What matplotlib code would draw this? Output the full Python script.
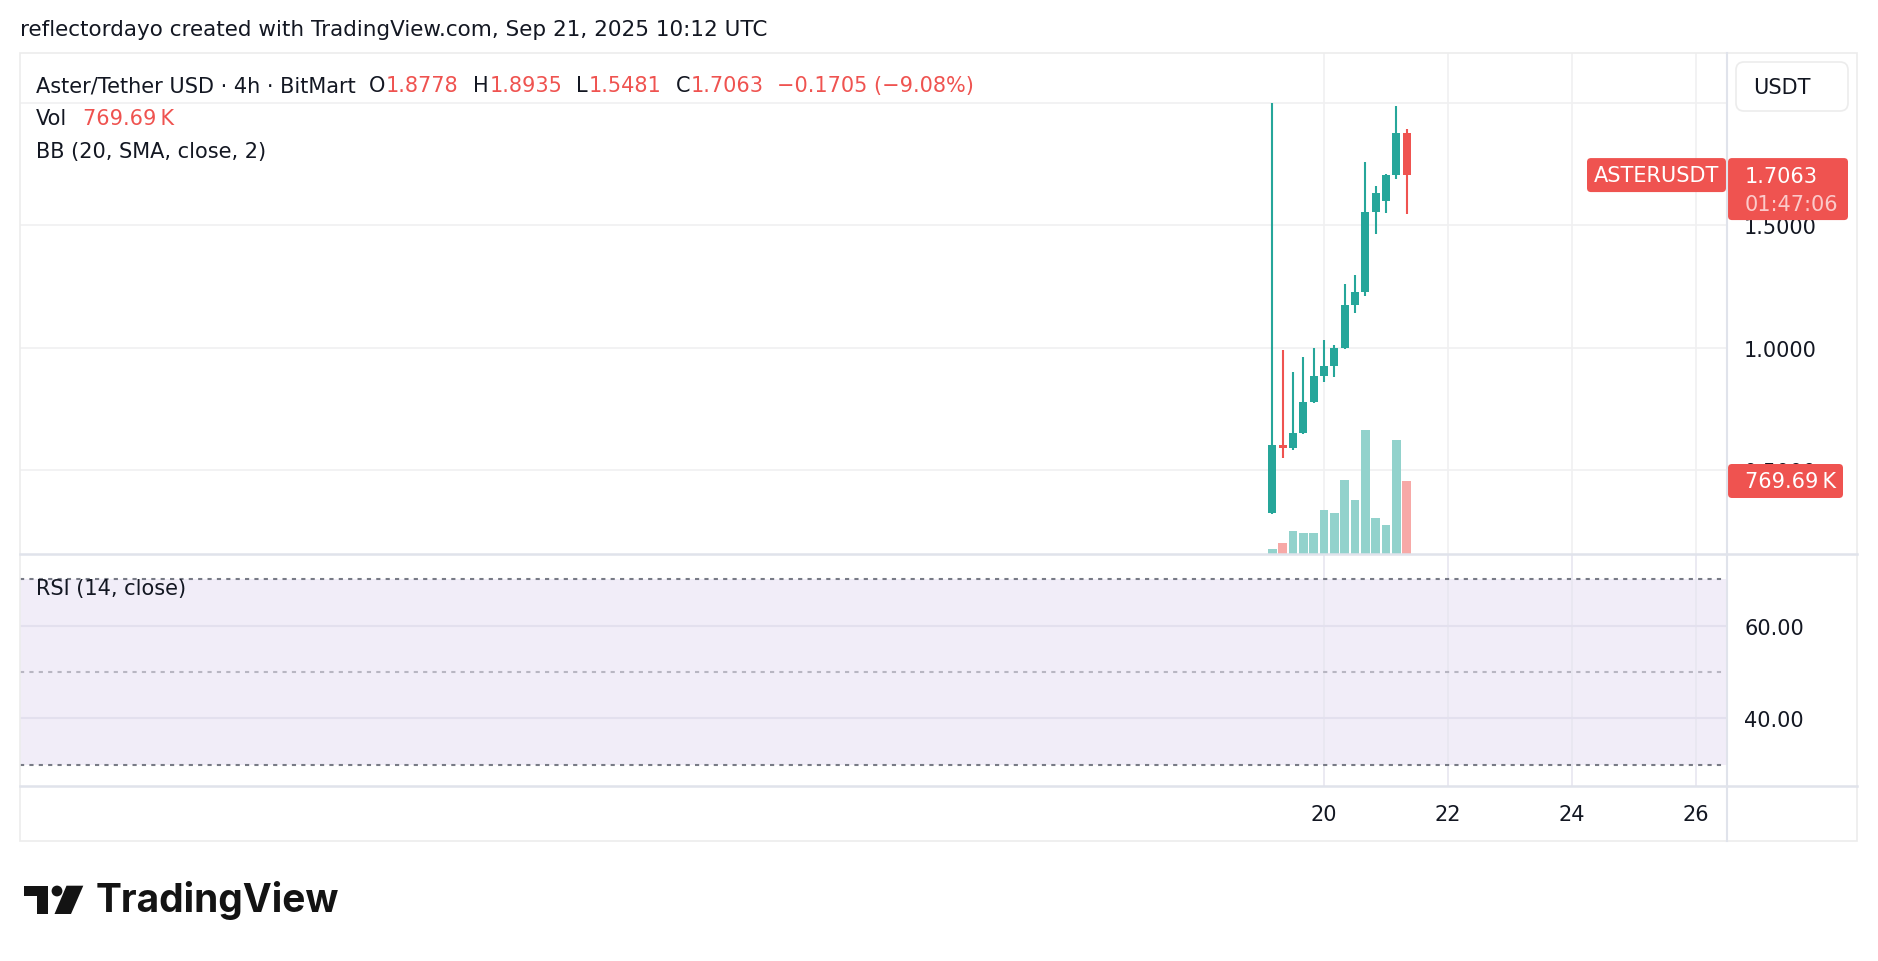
import matplotlib
matplotlib.use('Agg')
import matplotlib.pyplot as plt
import matplotlib.dates as mdates
from matplotlib.patches import Rectangle, FancyBboxPatch, Circle, Polygon
from datetime import datetime

# ---------------- data ----------------
times = ['2025-09-19 04:00', '2025-09-19 08:00', '2025-09-19 12:00', '2025-09-19 16:00',
         '2025-09-19 20:00', '2025-09-20 00:00', '2025-09-20 04:00', '2025-09-20 08:00',
         '2025-09-20 12:00', '2025-09-20 16:00', '2025-09-20 20:00', '2025-09-21 00:00',
         '2025-09-21 04:00', '2025-09-21 08:00']
opens = [0.324, 0.602, 0.588, 0.651, 0.778, 0.884, 0.925, 0.999, 1.175, 1.228, 1.555, 1.602, 1.707, 1.8778]
highs = [2.000, 0.990, 0.900, 0.962, 1.000, 1.031, 1.011, 1.261, 1.297, 1.760, 1.662, 1.711, 1.989, 1.8935]
lows = [0.320, 0.549, 0.580, 0.647, 0.775, 0.860, 0.881, 0.996, 1.143, 1.213, 1.467, 1.552, 1.692, 1.5481]
closes = [0.602, 0.590, 0.651, 0.778, 0.884, 0.925, 0.999, 1.175, 1.228, 1.555, 1.633, 1.707, 1.8778, 1.7063]
volumes_k = [53, 116, 242, 221, 221, 464, 432, 780, 569, 1307, 379, 306, 1202, 769.69]
price_ticks = [0.5, 1.0, 1.5, 2.0]
price_labels = ['0.5000', '1.0000', '1.5000', '']
rsi_ticks = [40, 60]
rsi_levels = [70, 50, 30]
date_ticks = ['2025-09-20', '2025-09-22', '2025-09-24', '2025-09-26']
date_labels = ['20', '22', '24', '26']

# ---------------- style ----------------
W, H = 1878, 962
FONT = ['DejaVu Sans']
plt.rcParams['font.family'] = FONT
FS = 15
TXT = '#131722'
UP = '#26a69a'
DN = '#ef5350'
UPV = '#92d2cc'
DNV = '#f7a9a7'
GRID = '#f0f0f1'
SEP = '#e0e3eb'

fig = plt.figure(figsize=(W / 100, H / 100), dpi=100)
fig.patch.set_facecolor('white')


def box(x0, y0, x1, y1):
    return [x0 / W, 1 - y1 / H, (x1 - x0) / W, (y1 - y0) / H]


LEFT, RIGHT = 20, 1726
x_ref = mdates.date2num(datetime(2025, 9, 20))
px_day = 62.0
x_zero_px = 1324
xlim = (x_ref + (LEFT - x_zero_px) / px_day, x_ref + (RIGHT - x_zero_px) / px_day)

tnum = [mdates.date2num(datetime.strptime(t, '%Y-%m-%d %H:%M')) for t in times]
dnum = [mdates.date2num(datetime.strptime(t, '%Y-%m-%d')) for t in date_ticks]

# price pane
axp = fig.add_axes(box(LEFT, 54, RIGHT, 555))
axp.set_xlim(*xlim)
axp.set_ylim(0.1559, 2.2058)
axv = fig.add_axes(box(LEFT, 54, RIGHT, 555), sharex=axp)
axv.set_ylim(0, 769.69 * 501 / 73)
axv.patch.set_alpha(0)
axr = fig.add_axes(box(LEFT, 555, RIGHT, 787), sharex=axp)
axr.set_ylim(25.48, 75.38)
axt = fig.add_axes(box(LEFT, 787, RIGHT, 842), sharex=axp)
axt.set_ylim(0, 1)

for a in (axp, axv, axr, axt):
    for s in a.spines.values():
        s.set_visible(False)
    a.tick_params(axis='x', bottom=False, labelbottom=False)

# gridlines
for d in dnum:
    axp.axvline(d, color=GRID, lw=1.2, zorder=0)
    axr.axvline(d, color='#e8e6f0', lw=1.2, zorder=1)
for p in price_ticks:
    axp.axhline(p, color=GRID, lw=1.2, zorder=0)

# candles
bw = 8.0 / px_day
for t, o, h, l, c in zip(tnum, opens, highs, lows, closes):
    col = UP if c >= o else DN
    axp.vlines(t, l, h, color=col, lw=1.5, zorder=3)
    hgt = c - o
    if abs(hgt) < 0.006:
        hgt = 0.006 if hgt >= 0 else -0.006
    axp.bar(t, hgt, bottom=o, width=bw, color=col, zorder=4, linewidth=0)

# volume
vcols = [UPV if c >= o else DNV for o, c in zip(opens, closes)]
axv.bar(tnum, volumes_k, width=8.6 / px_day, color=vcols, zorder=2, linewidth=0)
axv.set_yticks([])
axv.tick_params(left=False, labelleft=False)

# price axis labels on right
axp.yaxis.tick_right()
axp.set_yticks(price_ticks)
axp.set_yticklabels(price_labels)
axp.tick_params(axis='y', length=0, pad=13, labelsize=FS, labelcolor=TXT)
for lab in axp.get_yticklabels():
    lab.set_horizontalalignment('left')

# RSI pane
axr.axhspan(30, 70, color='#7e57c2', alpha=0.1, lw=0, zorder=0)
for p in rsi_ticks:
    axr.axhline(p, color='#e3e0ee', lw=1.5, zorder=1)
axr.axhline(rsi_levels[0], color='#787b86', lw=1.5, ls=(0, (2, 2.5)), zorder=2)
axr.axhline(rsi_levels[1], color='#b8b6c2', lw=1.5, ls=(0, (2, 2.5)), zorder=2)
axr.axhline(rsi_levels[2], color='#787b86', lw=1.5, ls=(0, (2, 2.5)), zorder=2)
axr.yaxis.tick_right()
axr.set_yticks(rsi_ticks)
axr.set_yticklabels(['%.2f' % p for p in rsi_ticks])
axr.tick_params(axis='y', length=0, pad=13, labelsize=FS, labelcolor=TXT)
for lab in axr.get_yticklabels():
    lab.set_horizontalalignment('left')

# time axis
axt.set_yticks([])
for d, lab in zip(dnum, date_labels):
    axt.text(d, 0.49, lab, ha='center', va='center', fontsize=FS, color=TXT)

# ---------------- overlay ----------------
axo = fig.add_axes([0, 0, 1, 1], zorder=10)
axo.set_xlim(0, W)
axo.set_ylim(H, 0)
axo.axis('off')
axo.patch.set_alpha(0)


def py(price):
    return H - axp.transData.transform((xlim[0], price))[1]


def vy(vol):
    return H - axv.transData.transform((xlim[0], vol))[1]


# frame and separators
axo.add_patch(Rectangle((20, 53.5), 1837, 788.5, fill=False, ec='#ececec', lw=1.2))
axo.plot([20, 1857], [555, 555], color=SEP, lw=1.8)
axo.plot([20, 1857], [787, 787], color=SEP, lw=1.8)
axo.plot([1726.5, 1726.5], [53.5, 842], color=SEP, lw=1.5)

# top caption
axo.text(20, 30, 'reflectordayo created with TradingView.com, Sep 21, 2025 10:12 UTC',
         ha='left', va='center', fontsize=15.5, color=TXT)

r = fig.canvas.get_renderer()


def seq(parts, x, y):
    for txt, col, gap in parts:
        t = axo.text(x, y, txt, ha='left', va='center', fontsize=FS, color=col)
        bb = t.get_window_extent(renderer=r)
        x += bb.width + gap


seq([('Aster/Tether USD · 4h · BitMart', TXT, 13),
     ('O', TXT, 1), ('%.4f' % opens[-1], DN, 14),
     ('H', TXT, 1), ('%.4f' % highs[-1], DN, 14),
     ('L', TXT, 1), ('%.4f' % lows[-1], DN, 14),
     ('C', TXT, 1), ('%.4f' % closes[-1], DN, 13),
     ('\u22120.1705 (\u22129.08%)', DN, 0)], 36, 86)
seq([('Vol', TXT, 16), ('769.69\u2009K', DN, 0)], 36, 119)
axo.text(36, 152, 'BB (20, SMA, close, 2)', ha='left', va='center', fontsize=FS, color=TXT)
axo.text(36, 589, 'RSI (14, close)', ha='left', va='center', fontsize=FS, color=TXT)

# USDT box
axo.add_patch(FancyBboxPatch((1736, 63), 112, 49, boxstyle='round,pad=0,rounding_size=8',
                             fc='white', ec='#ececec', lw=1.2))
axo.text(1753, 88, 'USDT', ha='left', va='center', fontsize=FS, color=TXT)

# last price labels
yc = py(closes[-1])
axo.add_patch(FancyBboxPatch((1587, yc - 17), 139, 34, boxstyle='round,pad=0,rounding_size=4',
                             fc=DN, ec='none'))
axo.text(1656.5, yc, 'ASTERUSDT', ha='center', va='center', fontsize=FS, color='white')
axo.add_patch(FancyBboxPatch((1728, yc - 17), 120, 62, boxstyle='round,pad=0,rounding_size=4',
                             fc=DN, ec='none'))
axo.text(1745, yc + 1, '%.4f' % closes[-1], ha='left', va='center', fontsize=FS, color='white')
axo.text(1745, yc + 29, '01:47:06', ha='left', va='center', fontsize=FS, color='#fbcaca')

yv = vy(volumes_k[-1])
axo.add_patch(FancyBboxPatch((1728, yv - 17), 115, 34, boxstyle='round,pad=0,rounding_size=4',
                             fc=DN, ec='none'))
axo.text(1745, yv, '769.69\u2009K', ha='left', va='center', fontsize=FS, color='white')

# TradingView logo
LOGO = '#131313'
axo.add_patch(Rectangle((24.3, 886.7), 24.0, 10.6, fc=LOGO, ec='none'))
axo.add_patch(Rectangle((36.7, 886.7), 11.6, 28.3, fc=LOGO, ec='none'))
axo.add_patch(Circle((57.0, 892.0), 5.4, fc=LOGO, ec='none'))
axo.add_patch(Polygon([(66.5, 886.7), (83.3, 886.7), (71.0, 915), (54.5, 915)], closed=True,
                      fc=LOGO, ec='none'))
axo.text(96, 901, 'TradingView', ha='left', va='center', fontsize=28, fontweight='bold',
         color=LOGO, family=['Inter', 'DejaVu Sans'])

fig.savefig('out.png', dpi=100, facecolor='white')
